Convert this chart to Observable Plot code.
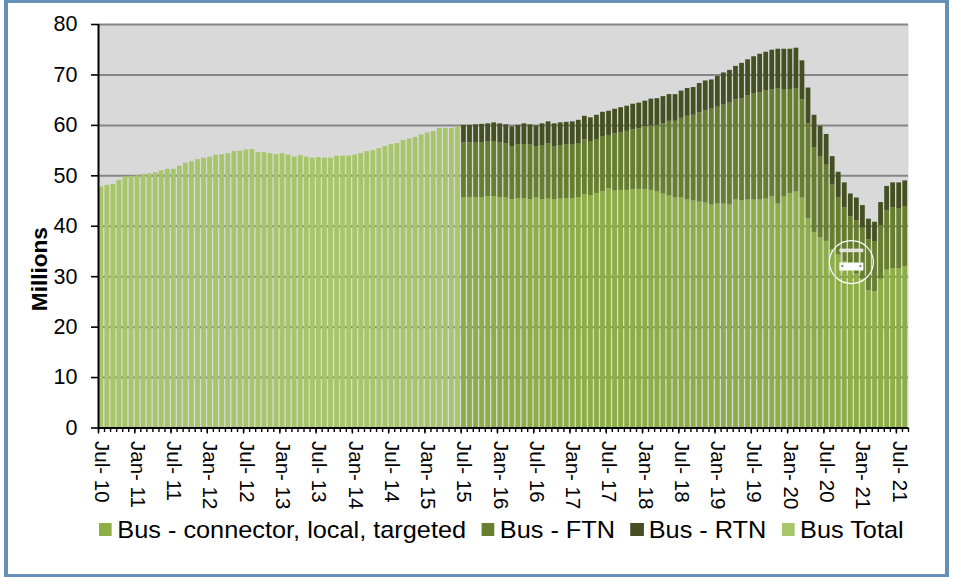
<!DOCTYPE html>
<html>
<head>
<meta charset="utf-8">
<script src="https://cdn.jsdelivr.net/npm/d3@7"></script>
<script src="https://cdn.jsdelivr.net/npm/@observablehq/plot@0.6"></script>
<style>
html,body{margin:0;padding:0;background:#fff;}
#wrap{position:relative;width:955px;height:577px;overflow:hidden;font-family:"Liberation Sans",Arial,sans-serif;}
#border{position:absolute;left:4px;top:0;width:945px;height:577px;box-sizing:border-box;border:solid #6690B7;border-width:3px 4.5px;pointer-events:none;}
#chart svg{display:block;}
#legend{position:absolute;left:99px;top:515px;display:flex;align-items:center;font-size:24px;line-height:29px;color:#000;white-space:nowrap;transform:scaleX(1.054);transform-origin:left center;}
#legend i{display:inline-block;width:12.4px;height:13px;margin-right:5px;}
#legend span{margin-right:14.6px;}
</style>
</head>
<body>
<div id="wrap">
  <div id="chart"></div>
  <div id="legend"></div>
  <div id="border"></div>
</div>
<script>
const seriesNames = ["Bus - connector, local, targeted", "Bus - FTN", "Bus - RTN", "Bus Total"];
const seriesColors = ["#8CAE45", "#677E2E", "#464F22", "#A7C669"];

const tickLabels = ["Jul- 10","Jan- 11","Jul- 11","Jan- 12","Jul- 12","Jan- 13","Jul- 13","Jan- 14","Jul- 14","Jan- 15","Jul- 15","Jan- 16","Jul- 16","Jan- 17","Jul- 17","Jan- 18","Jul- 18","Jan- 19","Jul- 19","Jan- 20","Jul- 20","Jan- 21","Jul- 21"];
const monthCount = 134;

// Jul-10 to Jun-15
const busTotal = [
47.8,48.1,48.3,49.1,49.8,49.9,50.0,50.3,50.4,50.6,
51.0,51.3,51.3,51.9,52.5,52.8,53.2,53.5,53.7,54.1,
54.2,54.4,54.8,54.9,55.1,55.2,54.6,54.6,54.4,54.2,
54.4,54.1,53.7,54.0,53.7,53.5,53.6,53.5,53.5,53.9,
53.9,53.9,54.1,54.4,54.8,55.0,55.4,55.8,56.2,56.4,
57.0,57.3,57.6,58.1,58.5,58.8,59.4,59.4,59.4,59.8];

// Jul-15 to Aug-21
const busConnector = [
45.6,45.7,45.7,45.7,45.9,45.9,45.7,45.6,45.3,45.5,
45.5,45.3,45.7,45.3,45.4,45.3,45.4,45.5,45.5,45.7,
46.3,46.1,46.5,46.9,47.4,47.0,47.1,47.1,47.3,47.3,
47.3,47.1,46.8,46.4,46.0,45.7,45.6,45.2,45.0,44.8,
44.6,44.2,44.4,44.4,44.2,45.2,45.0,45.2,45.2,45.2,
45.4,45.8,44.4,45.8,46.5,46.8,45.6,41.5,38.7,37.7,
37.0,35.3,34.3,33.0,31.6,30.5,29.5,27.2,27.0,29.5,
31.3,31.6,31.6,32.0];
const busFTN = [
10.9,10.8,10.9,10.9,10.9,10.9,10.9,10.7,10.5,10.7,
10.7,10.8,10.1,10.7,10.9,10.5,10.6,10.6,10.7,10.7,
10.8,10.7,10.7,10.9,10.6,11.3,11.5,11.7,11.8,12.0,
12.4,12.8,13.2,13.9,14.8,15.1,15.8,16.6,17.0,17.7,
18.3,19.0,19.2,19.6,20.2,19.9,20.3,20.7,21.1,21.3,
21.4,21.2,22.9,21.3,20.6,20.5,19.5,18.8,16.9,16.0,
15.1,12.9,11.4,10.7,10.3,10.6,10.1,10.1,9.9,10.6,
11.8,12.1,11.9,11.9];
const busRTN = [
3.5,3.5,3.5,3.6,3.5,3.7,3.7,3.8,3.9,3.8,
4.1,4.0,4.1,4.3,4.4,4.5,4.5,4.5,4.5,4.6,
4.7,4.7,4.8,4.8,4.8,4.9,4.9,5.0,5.1,5.1,
5.1,5.3,5.3,5.4,5.3,5.3,5.4,5.5,5.5,5.8,
5.9,5.8,6.1,6.4,6.5,6.6,7.0,7.1,7.3,7.6,
7.7,7.9,7.8,8.0,8.0,8.0,7.7,7.1,6.4,6.1,
6.1,5.6,5.0,4.9,4.5,4.5,4.5,4.1,3.9,4.6,
4.8,4.9,5.1,5.1];

const rows = [];
busTotal.forEach((v, i) => rows.push({i, next: i + 1, series: seriesNames[3], value: v}));
const split = busTotal.length;
[busConnector, busFTN, busRTN].forEach((arr, s) =>
  arr.forEach((v, k) => rows.push({i: split + k, next: split + k + 1, series: seriesNames[s], value: v})));

const majorTicks = tickLabels.map((_, k) => k * 6);
const busIcon = "data:image/svg+xml," + encodeURIComponent(
`<svg xmlns="http://www.w3.org/2000/svg" width="48" height="48" viewBox="0 0 48 48">
<ellipse cx="24" cy="24" rx="22" ry="21.5" fill="none" stroke="#fff" stroke-width="1.2"/>
<path d="M12.5 11h23v2.6h-23z" fill="#d8d8d8" stroke="#fff" stroke-width=".7"/>
<path d="M12 24.5h24v8H12z" fill="#fff"/>
<circle cx="15" cy="28" r="1.2" fill="#8a8a8a"/><circle cx="33" cy="28" r="1.2" fill="#8a8a8a"/>
<path d="M15 32.5v2M33 32.5v2M15 14v10M33 14v10" stroke="#fff" stroke-opacity=".55" stroke-width=".8"/>
</svg>`);

const plot = Plot.plot({
  width: 955,
  height: 510,
  marginLeft: 98,
  marginRight: 47,
  marginTop: 24,
  marginBottom: 82.5,
  style: {fontFamily: '"Liberation Sans", Arial, sans-serif', background: "transparent", color: "#000"},
  x: {domain: [0, monthCount], axis: null},
  y: {domain: [0, 80], axis: null},
  color: {domain: seriesNames, range: seriesColors},
  marks: [
    Plot.frame({fill: "#D9D9D9", stroke: null}),
    Plot.ruleY(d3.range(10, 90, 10), {stroke: "#868686", strokeWidth: 2}),
    Plot.rect(rows, Plot.stackY({
      x: "i", x1: "i", x2: "next", y: "value", fill: "series", order: seriesNames,
      insetLeft: 0.4, insetRight: 0.9
    })),
    Plot.ruleX(d3.range(0, monthCount + 1), {y1: 0, y2: 0, insetBottom: -4.5, stroke: "#000", strokeWidth: 1.4}),
    Plot.ruleX(majorTicks, {y1: 0, y2: 0, insetBottom: -6, stroke: "#000", strokeWidth: 1.4}),
    Plot.axisX({
      ticks: majorTicks, tickSize: 0, tickRotate: 90, tickPadding: 13, dx: 2.7, fontSize: 20.5,
      tickFormat: v => tickLabels[v / 6], label: null, fill: "#000"
    }),
    Plot.axisY({
      ticks: d3.range(0, 90, 10), tickSize: 7, tickPadding: 14, fontSize: 21.5, label: null,
      strokeWidth: 1.6, stroke: "#000", strokeOpacity: 1, fill: "#000"
    }),
    Plot.ruleX([0], {stroke: "#000", strokeWidth: 2}),
    Plot.ruleY([0], {stroke: "#000", strokeWidth: 2}),
    Plot.text(["Millions"], {
      frameAnchor: "left", textAnchor: "middle", y: [31.5], dx: -59, rotate: -90, fontWeight: "bold", fontSize: 22.6, fill: "#000"
    }),
    Plot.image([{x: 124.55, y: 32.9}], {x: "x", y: "y", width: 48, height: 48, src: () => busIcon})
  ]
});
document.getElementById("chart").appendChild(plot);

const legend = document.getElementById("legend");
seriesNames.forEach((name, k) => {
  const sw = document.createElement("i");
  sw.style.background = seriesColors[k];
  const t = document.createElement("span");
  t.textContent = name;
  legend.append(sw, t);
});
</script>
</body>
</html>
